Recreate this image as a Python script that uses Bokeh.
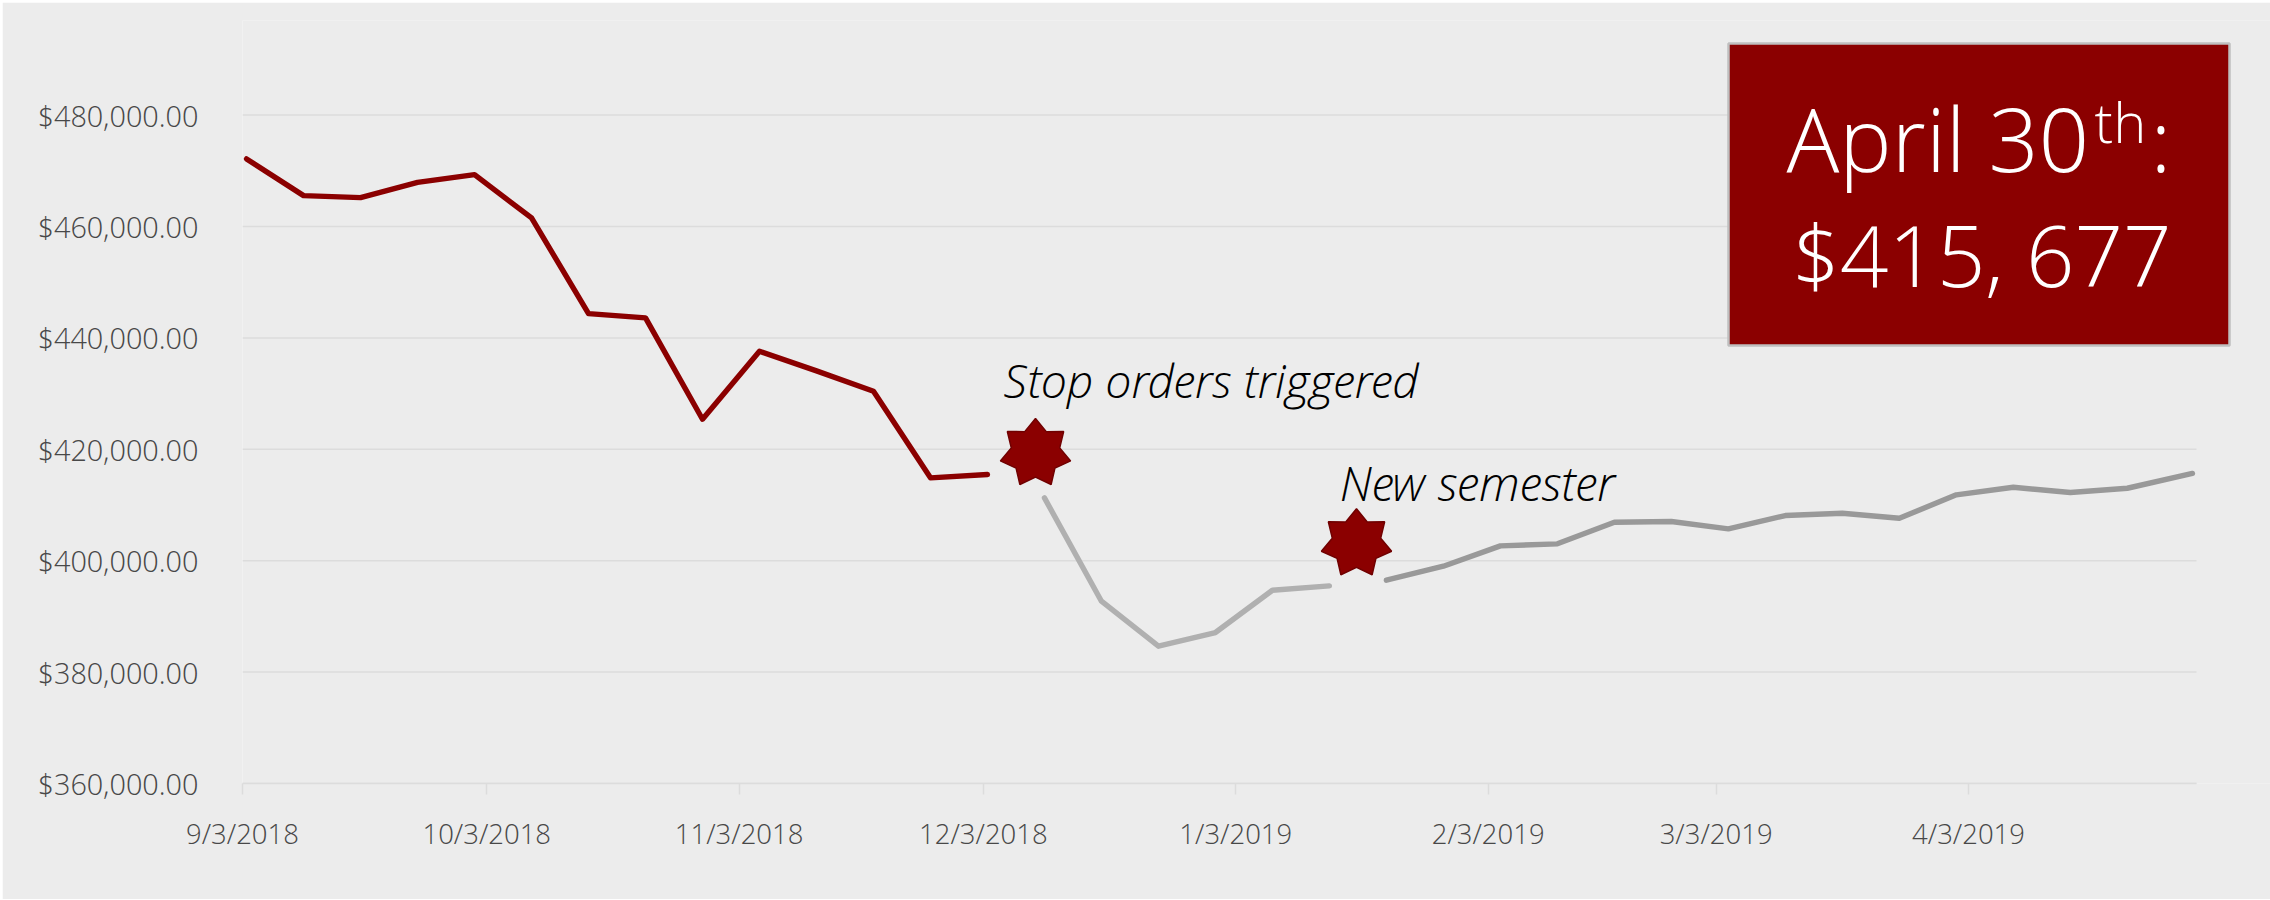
import math
import pandas as pd
from bokeh.plotting import figure
from bokeh.models import FixedTicker, Range1d
from bokeh.core.properties import value
from bokeh.embed import file_html
from bokeh.resources import INLINE

FONT = "Open Sans Light"
BG = "#ececec"
RED = "#8b0000"
GRID = "#dcdcdc"

first_dates = pd.date_range("2018-09-03", "2019-04-22", freq="7D").strftime("%Y-%m-%d").tolist()
dates = first_dates + ["2019-04-30"]
red_values = [472134, 465546, 465187, 467933, 469315, 461543, 444365, 443593, 425392, 437598,
              434080, 430418, 414873, 415465]
light_values = [411283, 392723, 384645, 387105, 394697, 395487]
dark_values = [396492, 399005, 402667, 403026, 406903, 407029, 405719, 408106, 408519, 407621,
               411822, 413186, 412235, 413006, 415677]
y_ticks = [360000, 380000, 400000, 420000, 440000, 460000, 480000]
x_tick_dates = ["2018-09-03", "2018-10-03", "2018-11-03", "2018-12-03", "2019-01-03", "2019-02-03",
                "2019-03-03", "2019-04-03"]
x_tick_labels = ["9/3/2018", "10/3/2018", "11/3/2018", "12/3/2018", "1/3/2019", "2/3/2019",
                 "3/3/2019", "4/3/2019"]


def ms(d):
    return pd.Timestamp(d).value / 1e6


DAY = 86400000.0
x0, x_axis_end = ms("2018-09-03"), ms("2019-05-01")
# reference pixel frame
FL, FR, FT, FB = 242.0, 2270.0, 20.0, 783.0
PX_PER_MS = (2196.0 - FL) / (x_axis_end - x0)
VPP = 20000 / 111.4
y_end = 360000 + (FB - FT) * VPP
x_end = x0 + (FR - FL) / PX_PER_MS


def px(x):
    return x0 + (x - FL) / PX_PER_MS


def py(y):
    return 360000 + (FB - y) * VPP


mid = [ms(d) + DAY / 2 for d in dates]

p = figure(width=2268, height=897, output_backend="svg", toolbar_location=None,
           x_range=Range1d(x0, x_end), y_range=Range1d(360000, y_end),
           background_fill_color=BG, border_fill_color=BG,
           min_border_left=int(FL - 2), min_border_right=0,
           min_border_top=int(FT - 2), min_border_bottom=int(899 - FB))
p.styles = {"position": "absolute", "left": "2px", "top": "2px"}
p.outline_line_color = None
p.xgrid.visible = False
p.ygrid.visible = False

# gridlines stop at the end of the date axis, the value box overhangs them
p.segment(x0=[x0] * len(y_ticks), x1=[x_axis_end] * len(y_ticks), y0=y_ticks, y1=y_ticks,
          line_color=GRID, line_width=1.5)

p.yaxis.ticker = FixedTicker(ticks=y_ticks)
p.yaxis.major_label_overrides = {v: f"${v:,.2f}" for v in y_ticks}
p.yaxis.axis_line_color = None
p.yaxis.major_tick_line_color = None
p.yaxis.minor_tick_line_color = None
p.yaxis.major_label_standoff = 38
p.yaxis.major_label_text_font = FONT
p.yaxis.major_label_text_font_size = "28.8px"
p.yaxis.major_label_text_color = "#484848"

tick_ms = [ms(d) for d in x_tick_dates]
p.xaxis.ticker = FixedTicker(ticks=tick_ms)
p.xaxis.major_label_overrides = dict(zip(tick_ms, x_tick_labels))
p.xaxis.bounds = (x0, x_axis_end)
p.xaxis.axis_line_color = GRID
p.xaxis.axis_line_width = 1.5
p.xaxis.major_tick_line_color = GRID
p.xaxis.major_tick_line_width = 1.5
p.xaxis.major_tick_in = 0
p.xaxis.major_tick_out = 11
p.xaxis.minor_tick_line_color = None
p.xaxis.major_label_standoff = 20
p.xaxis.major_label_text_font = FONT
p.xaxis.major_label_text_font_size = "27.5px"
p.xaxis.major_label_text_color = "#484848"

n1, n2 = len(red_values), len(light_values)
for xs, ys, col in [(mid[:n1], red_values, RED),
                    (mid[n1:n1 + n2], light_values, "#b0b0b0"),
                    (mid[n1 + n2:], dark_values, "#999999")]:
    p.line(xs, ys, line_color=col, line_width=5.4, line_cap="round", line_join="round")


def star(cx, cy, rx=36.0, ry=34.7, inner=0.69):
    xs, ys = [], []
    for k in range(14):
        a = math.pi * k / 7
        f = 1 if k % 2 == 0 else inner
        xs.append(px(cx + rx * f * math.sin(a)))
        ys.append(py(cy - ry * f * math.cos(a)))
    return xs, ys


for c in [(1035, 452.7), (1356, 543)]:
    sx, sy = star(*c)
    p.patch(sx, sy, fill_color=RED, line_color="#700000", line_width=1.5)

p.quad(left=[px(1728)], right=[px(2229)], top=[py(43)], bottom=[py(345)],
       fill_color=RED, line_color="#bfbfbf", line_width=2.5)


def txt(x, y, s, size, color="#ffffff", style="normal"):
    # Bokeh's text glyph drops its alphabetic baseline by about 0.43 em
    p.text([px(x)], [py(y - 0.43 * size)], text=[s], text_font=value(FONT),
           text_font_size=f"{size}px", text_color=color, text_font_style=style,
           text_align="left", text_baseline="alphabetic")


txt(1786, 175, "April 30", 88)
txt(2094, 145, "th", 56)
txt(2150, 175, ":", 88)
txt(1791, 290, "$415, 677", 85)
txt(1003, 400, "Stop orders triggered", 47, "#000000", "italic")
txt(1339, 503, "New semester", 48, "#000000", "italic")

open("out.html", "w").write(file_html(p, INLINE))
